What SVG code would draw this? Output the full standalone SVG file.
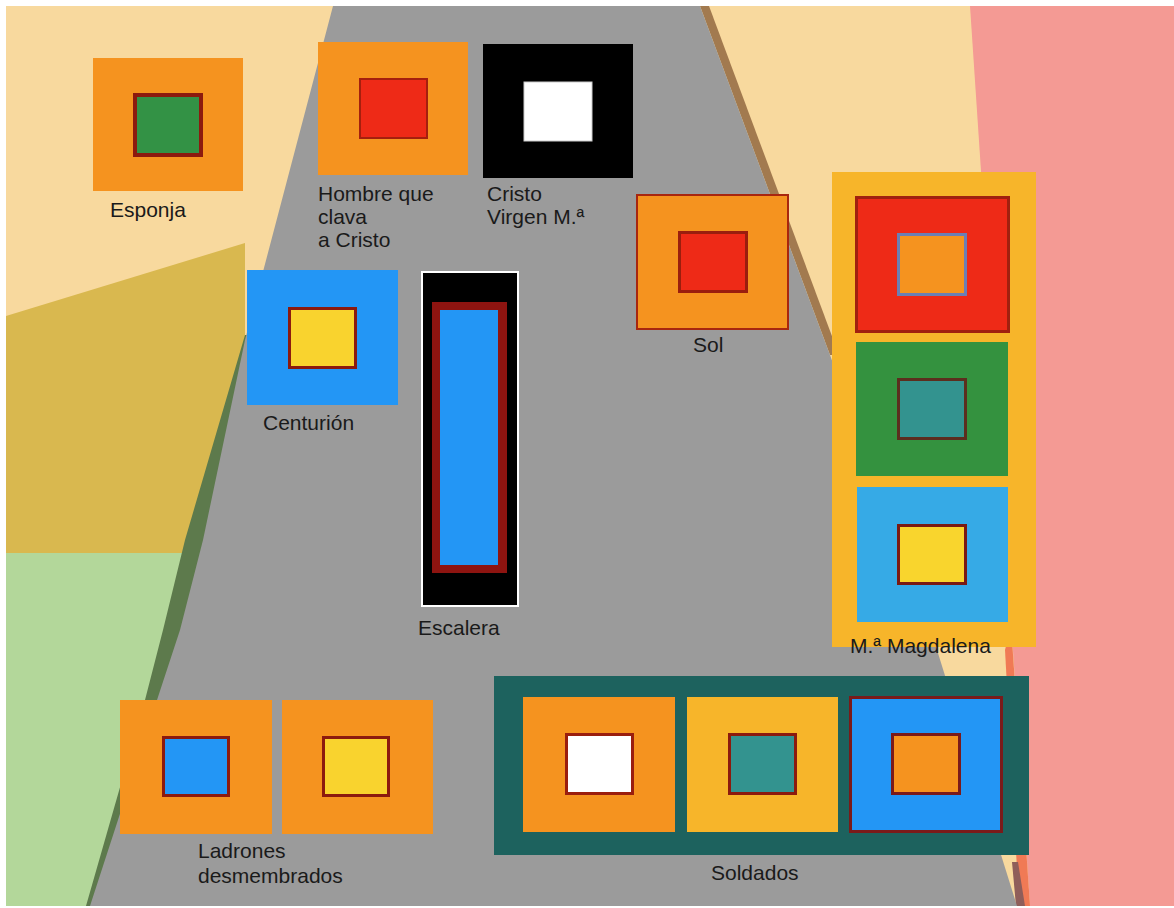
<svg xmlns="http://www.w3.org/2000/svg" width="1174" height="908" viewBox="0 0 1174 908">
<style>
.lbl{font-family:"Liberation Sans",Arial,Helvetica,sans-serif;font-size:21px;fill:#1a1a1a}
.org{fill:#F5931F}
.inr{stroke-width:3}
</style>
<g id="background">
<rect x="0" y="0" width="1174" height="908" fill="#ffffff"/>
<rect x="6" y="6" width="1168" height="900" fill="#F8D99E"/>
<polygon points="970,6 1174,6 1174,906 1030,906" fill="#F49A94"/>
<polygon points="1011,625 1030,906 1019,906 1005,650" fill="#F07A55"/>
<polygon points="1012,862 1018,862 1025,906 1016,906" fill="#8F5E5A"/>
<polygon points="6,316 245,243 245,553 6,553" fill="#D9B84F"/>
<rect x="6" y="553" width="250" height="353" fill="#B3D79A"/>
<polygon points="245,335 300,335 300,906 86,906 145,700 163,630 185,540" fill="#5D7A4C"/>
<polygon points="700,6 709,6 839,355 830,355" fill="#A27A4F"/>
<polygon points="333,6 700,6 830,355 937,650 1017,906 90,906 157,700 180,630 203,540 245,340" fill="#9B9B9B"/>
</g>
<g id="connectors"/>
<g id="esponja">
<rect x="93" y="58" width="150" height="133" class="org"/>
<rect x="135" y="95" width="66" height="60" fill="#339245" stroke="#8C1A0E" stroke-width="4"/>
<text x="110" y="217" class="lbl">Esponja</text>
</g>
<g id="hombre">
<rect x="318" y="42" width="150" height="133" class="org"/>
<rect x="360" y="79" width="67" height="59" fill="#EE2A17" stroke="#A51F0E" stroke-width="2"/>
<text class="lbl"><tspan x="318" y="201">Hombre que</tspan><tspan x="318" y="224">clava</tspan><tspan x="318" y="247">a Cristo</tspan></text>
</g>
<g id="cristo">
<rect x="483" y="44" width="150" height="134" fill="#000000"/>
<rect x="524" y="82" width="68" height="59" fill="#ffffff" stroke="#cccccc" stroke-width="1"/>
<text class="lbl"><tspan x="487" y="201">Cristo</tspan><tspan x="487" y="224">Virgen M.ª</tspan></text>
</g>
<g id="sol">
<rect x="637" y="195" width="151" height="134" class="org" stroke="#A8260F" stroke-width="2"/>
<rect x="679.5" y="232.5" width="67" height="59" fill="#EE2A17" stroke="#9A1E0E" class="inr"/>
<text x="693" y="352" class="lbl">Sol</text>
</g>
<g id="centurion">
<rect x="247" y="270" width="151" height="135" fill="#2396F5"/>
<rect x="289.5" y="308.5" width="66" height="59" fill="#F9D32E" stroke="#8C1A0E" class="inr"/>
<text x="263" y="430" class="lbl">Centurión</text>
</g>
<g id="escalera">
<rect x="422" y="272" width="96" height="334" fill="#000000" stroke="#ffffff" stroke-width="2"/>
<rect x="432" y="302" width="75" height="271" fill="#8E1410"/>
<rect x="440" y="310" width="58" height="255" fill="#2396F5"/>
<text x="418" y="635" class="lbl">Escalera</text>
</g>
<g id="magdalena">
<rect x="832" y="172" width="204" height="475" fill="#F7B52A"/>
<rect x="856.5" y="197.5" width="152" height="134" fill="#EE2A17" stroke="#A1200F" class="inr"/>
<rect x="898.5" y="234.5" width="67" height="60" class="org inr" stroke="#6B7FB5"/>
<rect x="856" y="342" width="152" height="134" fill="#34923F"/>
<rect x="898.5" y="379.5" width="67" height="59" fill="#33938F" stroke="#5C2E1E" class="inr"/>
<rect x="857" y="487" width="151" height="135" fill="#36AAE6"/>
<rect x="898.5" y="525.5" width="67" height="58" fill="#F9D52D" stroke="#7A1A12" class="inr"/>
<text x="850" y="653" class="lbl">M.ª Magdalena</text>
</g>
<g id="ladrones">
<rect x="120" y="700" width="152" height="134" class="org"/>
<rect x="163.5" y="737.5" width="65" height="58" fill="#2396F5" stroke="#8C1A0E" class="inr"/>
<rect x="282" y="700" width="151" height="134" class="org"/>
<rect x="323.5" y="737.5" width="65" height="58" fill="#F9D32E" stroke="#8C1A0E" class="inr"/>
<text class="lbl"><tspan x="198" y="858">Ladrones</tspan><tspan x="198" y="883">desmembrados</tspan></text>
</g>
<g id="soldados">
<rect x="494" y="676" width="535" height="179" fill="#1D625E"/>
<rect x="523" y="697" width="152" height="135" class="org"/>
<rect x="566.5" y="734.5" width="66" height="59" fill="#ffffff" stroke="#9A1E0E" class="inr"/>
<rect x="687" y="697" width="151" height="135" fill="#F7B52A"/>
<rect x="729.5" y="734.5" width="66" height="59" fill="#33938F" stroke="#8C1A0E" class="inr"/>
<rect x="850.5" y="697.5" width="151" height="134" fill="#2396F5" stroke="#7A1A1A" class="inr"/>
<rect x="892.5" y="734.5" width="67" height="59" class="org inr" stroke="#7A1A1A"/>
<text x="711" y="880" class="lbl">Soldados</text>
</g>
</svg>
